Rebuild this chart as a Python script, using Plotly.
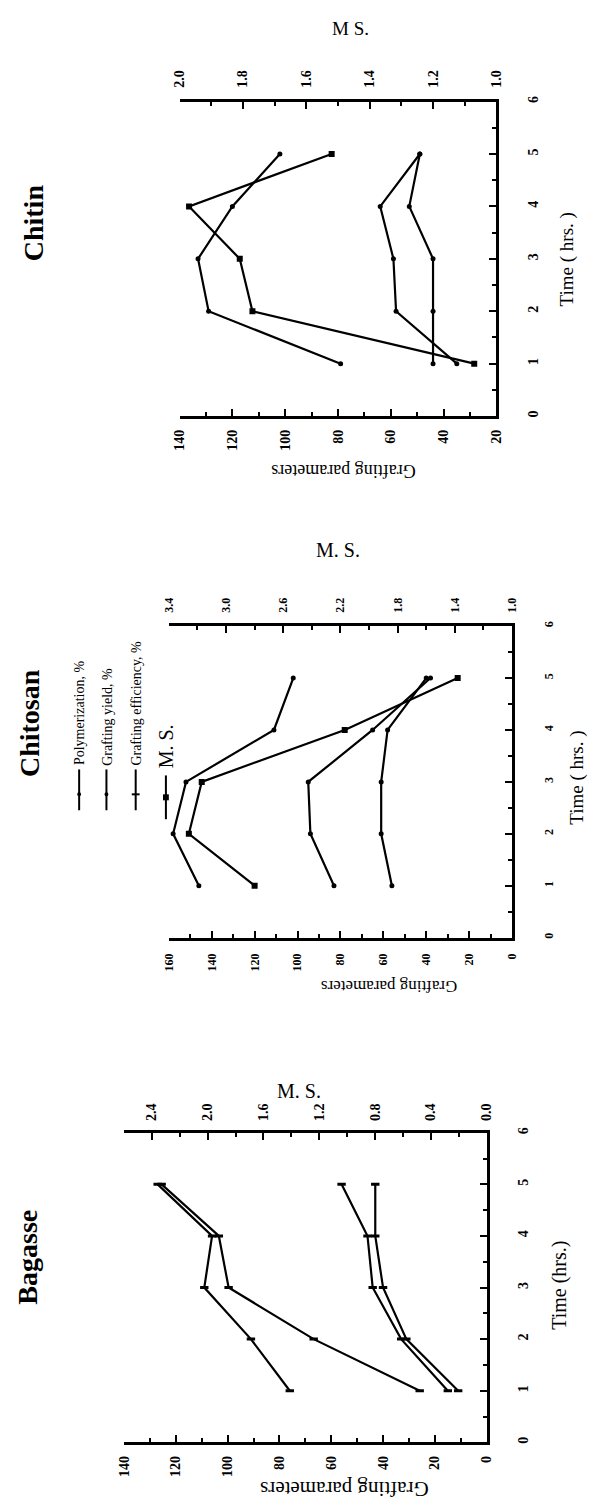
import plotly.graph_objects as go

W, H = 598, 1510
FONT = "Liberation Serif"

# ---------------- data ----------------
time_hrs = [1, 2, 3, 4, 5]

chitin_polymerization = [79, 129, 133, 120, 102]
chitin_grafting_yield = [35, 58, 59, 64, 49]
chitin_grafting_efficiency = [44, 44, 44, 53, 49]
chitin_ms = [1.07, 1.77, 1.81, 1.97, 1.52]

chitosan_polymerization = [146, 158, 152, 111, 102]
chitosan_grafting_yield = [83, 94, 95, 65, 38]
chitosan_grafting_efficiency = [56, 61, 61, 58, 40]
chitosan_ms = [2.80, 3.26, 3.17, 2.17, 1.38]

bagasse_polymerization = [76, 91, 109, 106, 127]
bagasse_grafting_yield = [15, 33, 44, 46, 56]
bagasse_grafting_efficiency = [11, 31, 40, 43, 43]
bagasse_ms = [0.48, 1.24, 1.85, 1.92, 2.33]

series_names = ["Polymerization, %", "Grafting yield, %", "Grafting efficiency, %", "M. S."]


def fx(p):
    return p / W


def fy(p):
    return 1 - p / H


panels = [
    dict(title="Chitin", gx="x", mx="x2", ty="y",
         data=[chitin_polymerization, chitin_grafting_yield, chitin_grafting_efficiency], ms=chitin_ms,
         box=(177, 502, 96, 412), gp_range=[140, 20], ms_range=[2.0, 1.0], ms_dtick=0.2, ms_tick0=1.0,
         tick_size=14, std=(5, 8, 22), bars=False,
         title_pos=(28, 218), ms_label="M S.", ms_pos=(352, 23), ms_size=19,
         time_label="Time ( hrs. )", time_pos=(574, 255), time_size=19,
         gp_pos=(345, 467), gp_size=18),
    dict(title="Chitosan", gx="x3", mx="x4", ty="y2",
         data=[chitosan_polymerization, chitosan_grafting_yield, chitosan_grafting_efficiency], ms=chitosan_ms,
         box=(166, 518, 623, 936), gp_range=[160, 0], ms_range=[3.4, 1.0], ms_dtick=0.4, ms_tick0=1.0,
         tick_size=12, std=(8, 8, 24), bars=False,
         title_pos=(23, 720), ms_label="M. S.", ms_pos=(340, 547), ms_size=20,
         time_label="Time ( hrs. )", time_pos=(585, 775), time_size=19,
         gp_pos=(392, 985), gp_size=17),
    dict(title="Bagasse", gx="x5", mx="x6", ty="y3",
         data=[bagasse_polymerization, bagasse_grafting_yield, bagasse_grafting_efficiency], ms=bagasse_ms,
         box=(120, 492, 1132, 1443), gp_range=[140, 0], ms_range=[2.6, 0.0], ms_dtick=0.4, ms_tick0=0.0,
         tick_size=14, std=(5, 6, 22), bars=True,
         title_pos=(21, 1257), ms_label="M. S.", ms_pos=(300, 1090), ms_size=20,
         time_label="Time (hrs.)", time_pos=(566, 1285), time_size=20,
         gp_pos=(346, 1490), gp_size=21),
]

fig = go.Figure()
layout = dict(width=W, height=H, margin=dict(l=0, r=0, t=0, b=0),
              paper_bgcolor="white", plot_bgcolor="white", showlegend=False)
annotations = []
shapes = []


def axname(a):
    return "xaxis" + a[1:] if a.startswith("x") else "yaxis" + a[1:]


def base_axis(size, standoff):
    return dict(showline=True, linecolor="black", linewidth=3, ticks="inside",
                tickcolor="black", tickwidth=2, ticklen=7, showgrid=False, zeroline=False,
                tickangle=-90, ticklabelstandoff=standoff,
                tickfont=dict(family=FONT, size=size, color="black", weight="bold"))


def ann(text, pos, size, angle, bold=False):
    annotations.append(dict(text=text, x=fx(pos[0]), y=fy(pos[1]), xref="paper", yref="paper",
                            showarrow=False, textangle=angle, xanchor="center", yanchor="middle",
                            font=dict(family=FONT, size=size, color="black",
                                      weight="bold" if bold else "normal")))


for p in panels:
    x0, x1, y0, y1 = p["box"]
    sg, sm, st = p["std"]
    gx = base_axis(p["tick_size"], sg)
    gx.update(domain=[fx(x0), fx(x1)], range=p["gp_range"], anchor=p["ty"], side="bottom",
              dtick=20, tick0=0,
              minor=dict(ticks="inside", ticklen=4, tickwidth=2, tickcolor="black", dtick=10, showgrid=False))
    mx = base_axis(p["tick_size"], sm)
    mx.update(overlaying=p["gx"], range=p["ms_range"], anchor=p["ty"], side="top",
              dtick=p["ms_dtick"], tick0=p["ms_tick0"], tickformat=".1f",
              minor=dict(ticks="inside", ticklen=4, tickwidth=2, tickcolor="black",
                         dtick=p["ms_dtick"] / 2, showgrid=False))
    ty = base_axis(p["tick_size"], st)
    ty.update(domain=[fy(y1), fy(y0)], range=[0, 6], anchor=p["gx"], side="right",
              dtick=1, tick0=0,
              minor=dict(ticks="inside", ticklen=4, tickwidth=2, tickcolor="black", dtick=0.5, showgrid=False))
    layout[axname(p["gx"])] = gx
    layout[axname(p["mx"])] = mx
    layout[axname(p["ty"])] = ty

    if p["bars"]:
        mk = dict(symbol="line-ew", size=6, line=dict(color="black", width=3), color="black")
        mk_ms = mk
    else:
        mk = dict(symbol="circle", size=5, color="black")
        mk_ms = dict(symbol="square", size=6, color="black")

    for name, vals in zip(series_names[:3], p["data"]):
        fig.add_trace(go.Scatter(x=vals, y=time_hrs, xaxis=p["gx"], yaxis=p["ty"], name=name,
                                 mode="lines+markers", line=dict(color="black", width=2.2),
                                 marker=mk))
    fig.add_trace(go.Scatter(x=p["ms"], y=time_hrs, xaxis=p["mx"], yaxis=p["ty"], name=series_names[3],
                             mode="lines+markers", line=dict(color="black", width=2.2),
                             marker=mk_ms))

    ann(p["title"], p["title_pos"], 28, -90, bold=True)
    ann(p["ms_label"], p["ms_pos"], p["ms_size"], 0)
    ann(p["time_label"], p["time_pos"], p["time_size"], -90)
    ann("Grafting parameters", p["gp_pos"], p["gp_size"], 180)

# ---------------- legend (Chitosan panel, rotated) ----------------
leg_x = [74, 102, 132, 163]
leg_sizes = [14, 14, 14, 20]
leg_line = [(767, 808), (767, 808), (767, 808), (773, 817)]
leg_text_start = [765, 765, 765, 768]
for i, (lx, name) in enumerate(zip(leg_x, series_names)):
    ya, yb = leg_line[i]
    shapes.append(dict(type="line", xref="paper", yref="paper", x0=fx(lx), x1=fx(lx),
                       y0=fy(yb), y1=fy(ya), line=dict(color="black", width=2)))
    if i == 3:
        shapes.append(dict(type="rect", xref="paper", yref="paper", x0=fx(lx - 3), x1=fx(lx + 3),
                           y0=fy(798), y1=fy(792), fillcolor="black", line=dict(width=0)))
    elif i == 2:
        shapes.append(dict(type="line", xref="paper", yref="paper", x0=fx(lx - 4), x1=fx(lx + 4),
                           y0=fy(792), y1=fy(792), line=dict(color="black", width=2)))
    else:
        shapes.append(dict(type="circle", xref="paper", yref="paper", x0=fx(lx - 2), x1=fx(lx + 2),
                           y0=fy(794), y1=fy(790), fillcolor="black", line=dict(width=0)))
    annotations.append(dict(text=name, x=fx(lx + 1), y=fy(leg_text_start[i]), xref="paper", yref="paper",
                            showarrow=False, textangle=-90, xanchor="center", yanchor="bottom",
                            font=dict(family=FONT, size=leg_sizes[i], color="black")))

layout["annotations"] = annotations
layout["shapes"] = shapes
fig.update_layout(**layout)
fig.write_html("out.html", config={"displayModeBar": False},
               post_script="document.body.style.margin='0';document.body.style.overflow='hidden';")
